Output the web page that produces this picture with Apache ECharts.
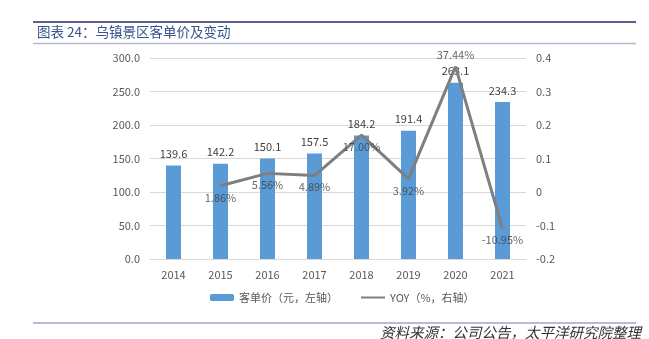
<!DOCTYPE html>
<html><head><meta charset="utf-8">
<script src="https://cdn.jsdelivr.net/npm/echarts@6/dist/echarts.min.js"></script>
<style>html,body{margin:0;padding:0;background:#fff}#c{width:649px;height:339px}</style>
</head><body><div id="c"></div>
<script>
const categories = ['2014','2015','2016','2017','2018','2019','2020','2021'];
const priceValues = [139.6, 142.2, 150.1, 157.5, 184.2, 191.4, 263.1, 234.3];
const yoyValues = [null, 0.0186, 0.0556, 0.0489, 0.1700, 0.0392, 0.3744, -0.1095];
const yoyLabelPos = ['bottom','bottom','bottom','bottom','bottom','bottom','top','bottom'];
const seriesNames = ['客单价（元，左轴）', 'YOY（%，右轴）'];
const titleText = '图表 24：乌镇景区客单价及变动';
const sourceText = '资料来源：公司公告，太平洋研究院整理';

const FONT = '"Noto Sans CJK SC", "Noto Sans", sans-serif';
const chart = echarts.init(document.getElementById('c'), null, {renderer: 'canvas'});
chart.setOption({
  animation: false,
  textStyle: {fontFamily: FONT},
  graphic: [
    {type: 'line', shape: {x1: 33, y1: 22, x2: 636, y2: 22}, style: {stroke: '#5E5E8E', lineWidth: 2}},
    {type: 'line', shape: {x1: 33, y1: 43.5, x2: 636, y2: 43.5}, style: {stroke: '#B8B8D4', lineWidth: 1.5}},
    {type: 'text', left: 37, top: 25, style: {text: titleText, fill: '#34548A', font: '13.5px ' + FONT}},
    {type: 'line', shape: {x1: 33, y1: 323, x2: 636, y2: 323}, style: {stroke: '#A3A3C4', lineWidth: 1.5}},
    {type: 'text', right: 8, top: 325, style: {text: sourceText, fill: '#333', font: 'italic 14.5px ' + FONT}}
  ],
  grid: {left: 150, right: 123, top: 58, bottom: 80},
  legend: {
    data: [
      {name: seriesNames[0]},
      {name: seriesNames[1], itemStyle: {opacity: 0, borderWidth: 0}}
    ],
    bottom: 31, left: 205,
    itemWidth: 24, itemHeight: 7, itemGap: 22,
    textStyle: {color: '#595959', fontSize: 11, fontFamily: FONT}
  },
  xAxis: {
    type: 'category', data: categories,
    axisLine: {show: true, lineStyle: {color: '#D9D9D9'}},
    axisTick: {show: false},
    axisLabel: {color: '#595959', fontSize: 11, margin: 10}
  },
  yAxis: [
    {type: 'value', min: 0, max: 300, interval: 50,
     axisLine: {show: false}, axisTick: {show: false},
     axisLabel: {color: '#595959', fontSize: 11, margin: 10, formatter: v => v.toFixed(1)},
     splitLine: {lineStyle: {color: '#D9D9D9'}}},
    {type: 'value', min: -0.2, max: 0.4, interval: 0.1,
     axisLine: {show: false}, axisTick: {show: false},
     axisLabel: {color: '#595959', fontSize: 11, margin: 10,
       formatter: v => { const r = Math.round(v * 10) / 10; return r === 0 ? '0' : String(r); }},
     splitLine: {show: false}}
  ],
  series: [
    {name: seriesNames[0], type: 'bar', data: priceValues, barWidth: 15,
     itemStyle: {color: '#5B9BD5'},
     label: {show: true, position: 'top', color: '#404040', fontSize: 11, distance: 6,
       formatter: p => p.value.toFixed(1)}},
    {name: seriesNames[1], type: 'line', yAxisIndex: 1, data: yoyValues,
     symbol: 'none', lineStyle: {color: '#7F7F7F', width: 3}, itemStyle: {color: '#7F7F7F'}},
    {name: 'yoyLabels', type: 'scatter', yAxisIndex: 1, symbolSize: 0.1, z: 5,
     itemStyle: {color: 'rgba(0,0,0,0)'},
     data: yoyValues.map((v, i) => ({value: v, label: {position: yoyLabelPos[i]}})),
     label: {show: true, color: '#404040', fontSize: 11, distance: 6,
       formatter: p => (p.value * 100).toFixed(2) + '%'}}
  ]
});
</script></body></html>
